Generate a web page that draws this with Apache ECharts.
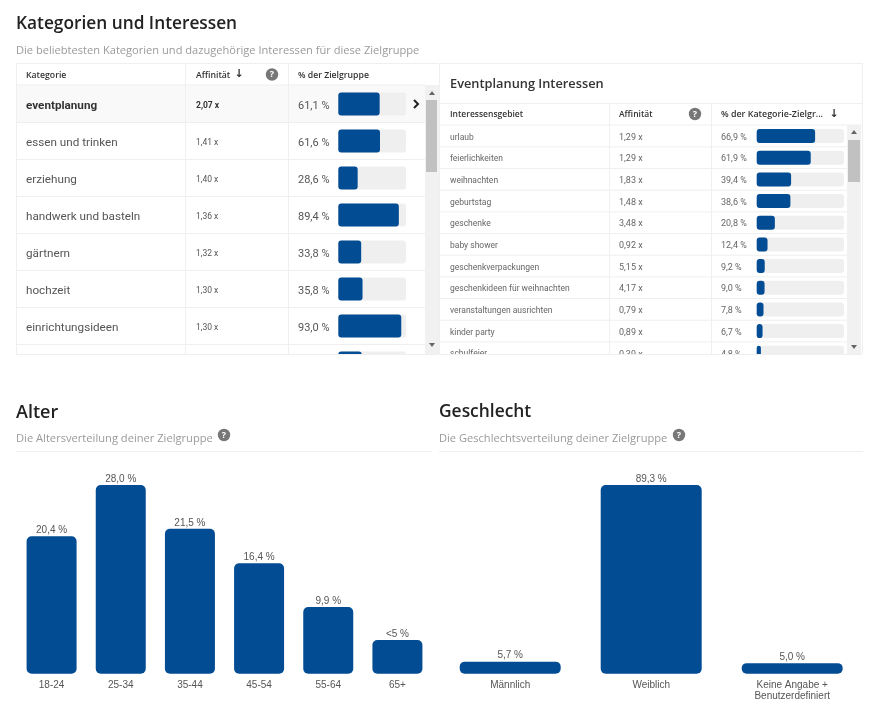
<!DOCTYPE html>
<html><head><meta charset="utf-8">
<style>html,body{margin:0;padding:0;background:#fff}#c{width:888px;height:715px}</style>
<script src="https://cdn.jsdelivr.net/npm/echarts@6/dist/echarts.min.js"></script>
</head><body><div id="c"></div>
<script>
const catNames = ['eventplanung','essen und trinken','erziehung','handwerk und basteln','gärtnern','hochzeit','einrichtungsideen',''];
const catAffinity = ['2,07 x','1,41 x','1,40 x','1,36 x','1,32 x','1,30 x','1,30 x',''];
const catPct = [61.1,61.6,28.6,89.4,33.8,35.8,93.0,34.6];
const catPctLabels = ['61,1 %','61,6 %','28,6 %','89,4 %','33,8 %','35,8 %','93,0 %',''];

const intNames = ['urlaub','feierlichkeiten','weihnachten','geburtstag','geschenke','baby shower','geschenkverpackungen','geschenkideen für weihnachten','veranstaltungen ausrichten','kinder party','schulfeier'];
const intAffinity = ['1,29 x','1,29 x','1,83 x','1,48 x','3,48 x','0,92 x','5,15 x','4,17 x','0,79 x','0,89 x','0,39 x'];
const intPct = [66.9,61.9,39.4,38.6,20.8,12.4,9.2,9.0,7.8,6.7,4.8];
const intPctLabels = ['66,9 %','61,9 %','39,4 %','38,6 %','20,8 %','12,4 %','9,2 %','9,0 %','7,8 %','6,7 %','4,8 %'];

const ageCats = ['18-24','25-34','35-44','45-54','55-64','65+'];
const ageValues = [20.4,28.0,21.5,16.4,9.9,5.0];
const ageLabels = ['20,4 %','28,0 %','21,5 %','16,4 %','9,9 %','<5 %'];

const genderCats = ['Männlich','Weiblich','Keine Angabe +\nBenutzerdefiniert'];
const genderValues = [5.7,89.3,5.0];
const genderLabels = ['5,7 %','89,3 %','5,0 %'];

const BLUE = '#024c94', UI = '"Open Sans","Noto Sans",sans-serif', CELL = 'Roboto,"Open Sans",sans-serif', AR = '"Liberation Sans",Arial,sans-serif';

const g = [];
function txt(s,x,y,size,color,weight,extra){
  g.push(Object.assign({type:'text',x:x,y:y+1.5,z:20,silent:true,style:{text:s,fill:color,font:(weight||'normal')+' '+size+'px '+UI,textVerticalAlign:'middle',textAlign:'left'}},extra||{}));
}
function line(x1,y1,x2,y2,c){
  g.push({type:'line',z:1,silent:true,shape:{x1:x1,y1:y1,x2:x2,y2:y2},style:{stroke:c||'#efefef',lineWidth:1}});
}
function rect(x,y,w,h,c,z){
  g.push({type:'rect',z:z||0,silent:true,shape:{x:x,y:y,width:w,height:h},style:{fill:c}});
}
function help(x,y){
  g.push({type:'circle',z:20,silent:true,shape:{cx:x,cy:y,r:6.2},style:{fill:'#777'}});
  g.push({type:'text',z:21,silent:true,x:x,y:y,style:{text:'?',fill:'#fff',font:'bold 9px '+UI,textAlign:'center',textVerticalAlign:'middle'}});
}
function tri(x,y,up){
  const d=up?-2:2;
  g.push({type:'polygon',z:60,silent:true,shape:{points:[[x-3,y-d],[x+3,y-d],[x,y+d]]},style:{fill:'#666'}});
}
function arrow(x,y){
  g.push({type:'text',z:20,silent:true,x:x,y:y,style:{text:'↓',fill:'#333',font:'bold 11px "DejaVu Sans"',textAlign:'center',textVerticalAlign:'middle'}});
}

// headings
txt('Kategorien und Interessen',16,23,17.3,'#222','600');
txt('Die beliebtesten Kategorien und dazugehörige Interessen für diese Zielgruppe',16,49,11.1,'#9a9a9a');
txt('Alter',16,411,18,'#222','600');
txt('Die Altersverteilung deiner Zielgruppe',16,437,11.15,'#9a9a9a');
txt('Geschlecht',439,411,17.4,'#222','600');
txt('Die Geschlechtsverteilung deiner Zielgruppe',439,437,11.1,'#9a9a9a');
help(224,435); help(679,435);
line(16,451.5,432,451.5); line(439,451.5,863,451.5);

// left table chrome
rect(16,85,409,38,'#f9f9f9',0);
line(16,63.5,438,63.5); line(16.5,63,16.5,354);
line(16,85,425,85);
for(let i=0;i<7;i++) line(16,122.5+37*i,425,122.5+37*i);
line(185.5,63,185.5,354); line(288.5,63,288.5,354);
txt('Kategorie',26,74,8.7,'#333','600');
txt('Affinität',196,74,8.7,'#333','600'); arrow(239,74);
help(272,74.5);
txt('% der Zielgruppe',298,74,8.7,'#333','600');
g.push({type:'polyline',z:20,silent:true,shape:{points:[[414,100],[418,104],[414,108]]},style:{stroke:'#222',lineWidth:2,fill:null}});
rect(425,85,14,269,'#f1f1f1',5);
rect(426,100,11,72,'#c1c1c1',6);

// right table chrome
line(439.5,63,439.5,354); line(439,63.5,863,63.5); line(862.5,63,862.5,354);
line(439,103.5,862,103.5); line(439,125,862,125);
for(let i=1;i<11;i++){const y=125.2+21.67*i; line(439,y,847,y);}
line(609.5,104,609.5,354); line(711.5,104,711.5,354);
txt('Eventplanung Interessen',450,82.5,12.8,'#333','600');
txt('Interessensgebiet',450,113,8.5,'#333','600');
txt('Affinität',619,113,8.5,'#333','600');
help(695,114);
txt('% der Kategorie-Zielgr...',721,113,8.9,'#333','600'); arrow(834,114);
rect(847,125,14,229,'#f1f1f1',5);
rect(848,140,12,42,'#c1c1c1',6);

// clipping of the scrolled rows
rect(16,354,850,30,'#ffffff',50);
line(16,354.5,438,354.5); line(439,354.5,862,354.5);
g[g.length-1].z=51; g[g.length-2].z=51;
tri(432,93,true); tri(432,345,false); tri(854,132,true); tri(854,347,false);

function labelAxis(grid,data,left,gridLeft,size,color,boldFirst,shift){
  const common={align:'left',verticalAlign:'top',lineHeight:shift,fontFamily:CELL,fontSize:size};
  return {type:'category',gridIndex:grid,inverse:true,position:'left',offset:gridLeft-left,
    data:data.map((v,i)=>boldFirst&&i===0?{value:v,textStyle:Object.assign({fontWeight:'bold',color:'#333'},common)}:v),
    axisLine:{show:false},axisTick:{show:false},splitLine:{show:false},
    axisLabel:Object.assign({interval:0,margin:0,color:color},common)};
}
function hiddenVal(grid,max){
  return {type:'value',gridIndex:grid,min:0,max:max,show:false,splitLine:{show:false}};
}
function tableBars(grid,yIdx,values,w){
  return {type:'bar',xAxisIndex:grid,yAxisIndex:yIdx,data:values,barWidth:w,barGap:0,z:3,
    showBackground:true,backgroundStyle:{color:'#efefef',borderRadius:3},
    itemStyle:{color:BLUE,borderRadius:3},silent:true,animation:false};
}
function columnAxis(grid,cats){
  return {type:'category',gridIndex:grid,data:cats,axisLine:{show:false},axisTick:{show:false},splitLine:{show:false},
    axisLabel:{interval:0,margin:6,fontFamily:AR,fontSize:10,lineHeight:11,color:'#555'}};
}
function columnBars(grid,values,labels,w,r){
  return {type:'bar',xAxisIndex:grid,yAxisIndex:grid===2?8:9,data:values,barWidth:w,z:3,silent:true,animation:false,
    itemStyle:{color:BLUE,borderRadius:r},
    label:{show:true,position:'top',distance:1,fontFamily:AR,fontSize:10,color:'#555',
      formatter:p=>labels[p.dataIndex]}};
}

const option = {
  animation:false,
  backgroundColor:'#fff',
  grid:[
    {left:338.3,width:67.7,top:85.5,height:296,outerBoundsMode:'none'},
    {left:756.7,width:87.3,top:125.2,height:238.4,outerBoundsMode:'none'},
    {left:17,width:415,top:485,height:188.7,outerBoundsMode:'none'},
    {left:439.7,width:423,top:485,height:188.7,outerBoundsMode:'none'}
  ],
  xAxis:[hiddenVal(0,100),hiddenVal(1,100),columnAxis(2,ageCats),columnAxis(3,genderCats)],
  yAxis:[
    labelAxis(0,catNames,26,338.3,11.7,'#555',true,4),
    labelAxis(0,catAffinity,196,338.3,8.5,'#555',true,4),
    labelAxis(0,catPctLabels,298,338.3,11,'#555',false,4),
    Object.assign(labelAxis(0,catPct,0,338.3,1,'#fff'),{show:false}),
    labelAxis(1,intNames,450,756.7,8.5,'#666',false,3),
    labelAxis(1,intAffinity,619,756.7,9,'#666',false,3),
    labelAxis(1,intPctLabels,721,756.7,9,'#666',false,3),
    Object.assign(labelAxis(1,intPct,0,756.7,1,'#fff'),{show:false}),
    hiddenVal(2,28),
    hiddenVal(3,89.3)
  ],
  series:[
    tableBars(0,3,catPct,23),
    tableBars(1,7,intPct,14),
    columnBars(2,ageValues,ageLabels,50,5),
    columnBars(3,genderValues,genderLabels,101,5)
  ],
  graphic:{elements:g}
};
const chart = echarts.init(document.getElementById('c'),null,{renderer:'canvas',width:888,height:715});
chart.setOption(option);
</script></body></html>
